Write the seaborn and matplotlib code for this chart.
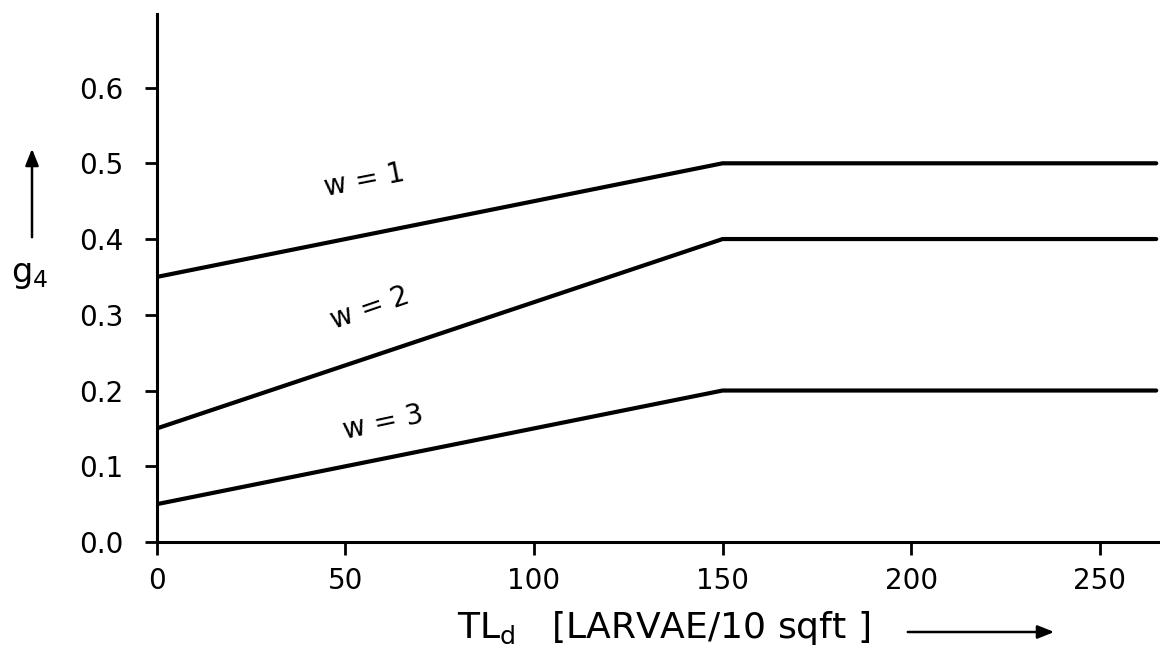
import numpy as np
import matplotlib
matplotlib.use("Agg")
import matplotlib.pyplot as plt
import seaborn as sns
import pandas as pd

# Data
tl_d = [0, 150, 265]
g4_w1 = [0.35, 0.50, 0.50]
g4_w2 = [0.15, 0.40, 0.40]
g4_w3 = [0.05, 0.20, 0.20]
curve_names = ["w = 1", "w = 2", "w = 3"]
x_ticks = [0, 50, 100, 150, 200, 250]
y_ticks = [0.0, 0.1, 0.2, 0.3, 0.4, 0.5, 0.6]

df = pd.concat([
    pd.DataFrame({"TL": tl_d, "g4": g4_w1, "w": curve_names[0]}),
    pd.DataFrame({"TL": tl_d, "g4": g4_w2, "w": curve_names[1]}),
    pd.DataFrame({"TL": tl_d, "g4": g4_w3, "w": curve_names[2]}),
])

sns.set_theme(style="white")
plt.rcParams["font.family"] = ["DejaVu Sans"]
plt.rcParams["text.color"] = "black"

fig = plt.figure(figsize=(11.6, 6.55), dpi=100)
ax = fig.add_axes([0.1353, 0.1725, 0.8647, 0.806])

sns.lineplot(data=df, x="TL", y="g4", hue="w", palette=["black"] * 3,
             linewidth=3.0, legend=False, ax=ax)

ax.set_xlim(0, 266)
ax.set_ylim(0, 0.697)
ax.set_xticks(x_ticks)
ax.set_yticks(y_ticks)
ax.set_yticklabels([f"{v:.1f}" for v in y_ticks])
ax.set_xlabel("")
ax.set_ylabel("")

for side in ["top", "right"]:
    ax.spines[side].set_visible(False)
for side in ["left", "bottom"]:
    ax.spines[side].set_color("black")
    ax.spines[side].set_linewidth(2.2)

ax.tick_params(axis="y", direction="out", length=9, width=2, pad=15,
               labelsize=20, left=True, colors="black")
ax.tick_params(axis="x", direction="out", length=9, width=2, pad=9,
               labelsize=20, bottom=True, colors="black")

# curve labels
ax.text(55, 0.478, curve_names[0], fontsize=20, rotation=11, ha="center", va="center")
ax.text(56.5, 0.309, curve_names[1], fontsize=20, rotation=19, ha="center", va="center")
ax.text(60, 0.157, curve_names[2], fontsize=20, rotation=12, ha="center", va="center")

# axis labels with arrows
fig.text(30 / 1160, 1 - 275 / 655, "g$_4$", fontsize=24, ha="center", va="center")
fig.add_artist(matplotlib.patches.FancyArrowPatch(
    (32 / 1160, 1 - 240 / 655), (32 / 1160, 1 - 146 / 655),
    transform=fig.transFigure, arrowstyle="-|>,head_length=10,head_width=4",
    color="black", linewidth=1.8))

fig.text(457 / 1160, 1 - 628 / 655, "TL$_\\mathregular{d}$   [LARVAE/10 sqft ]",
         fontsize=26, ha="left", va="center")
fig.add_artist(matplotlib.patches.FancyArrowPatch(
    (905 / 1160, 1 - 632 / 655), (1057 / 1160, 1 - 632 / 655),
    transform=fig.transFigure, arrowstyle="-|>,head_length=10,head_width=4",
    color="black", linewidth=1.8))

plt.savefig("out.png", dpi=100, facecolor="white")
